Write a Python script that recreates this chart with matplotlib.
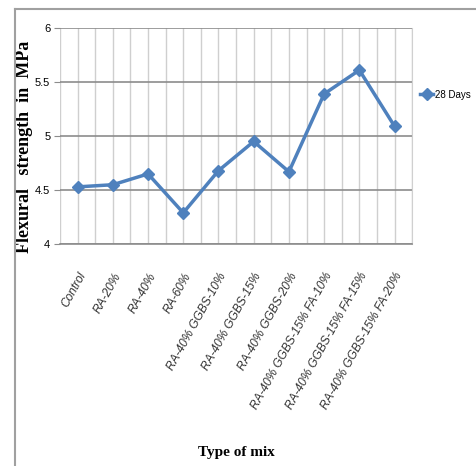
import matplotlib
matplotlib.use("Agg")
import matplotlib.pyplot as plt
from matplotlib.lines import Line2D
from matplotlib.ticker import MultipleLocator

mixes = ['Control', 'RA-20%', 'RA-40%', 'RA-60%', 'RA-40% GGBS-10%',
         'RA-40% GGBS-15%', 'RA-40% GGBS-20%', 'RA-40% GGBS-15% FA-10%',
         'RA-40% GGBS-15% FA-15%', 'RA-40% GGBS-15% FA-20%']
strength_28 = [4.53, 4.55, 4.65, 4.29, 4.68, 4.95, 4.67, 5.39, 5.61, 5.09]

sans = ['Liberation Sans', 'DejaVu Sans']
blue = '#4F81BD'

fig = plt.figure(figsize=(4.76, 4.66), dpi=100)
ax = fig.add_axes([0.126, 0.476, 0.740, 0.464])

x = list(range(len(mixes)))
ax.plot(x, strength_28, color=blue, lw=2.5, marker='D', markersize=6,
        label='28 Days', zorder=3)

ax.set_xlim(-0.5, len(mixes) - 0.5)
ax.set_ylim(4, 6)
ax.yaxis.set_major_locator(MultipleLocator(0.5))
ax.set_xticks(x)
ax.set_xticks([i - 0.5 for i in range(len(mixes) + 1)], minor=True)

ax.grid(axis='y', which='major', color='#8c8c8c', lw=1.2)
ax.grid(axis='x', which='both', color='#cfcfcf', lw=1.0)
ax.set_axisbelow(True)

for side in ['top', 'left']:
    ax.spines[side].set_visible(False)
ax.spines['right'].set_color('#d0d0d0')
ax.spines['bottom'].set_color('#8c8c8c')
ax.spines['bottom'].set_linewidth(1.2)

ax.tick_params(axis='y', length=4, color='#8c8c8c', pad=3)
ax.tick_params(axis='x', which='both', length=0, pad=19)
ax.set_yticks([4, 4.5, 5, 5.5, 6])
ax.set_yticklabels(['4', '4.5', '5', '5.5', '6'], family=sans, fontsize=8)
ax.set_xticklabels(mixes, rotation=61, ha='right', va='top',
                   rotation_mode='anchor', fontsize=8.6, style='italic',
                   family=sans, color='#333333')

ax.set_ylabel('Flexural   strength  in  MPa', family='Liberation Serif',
              fontweight='bold', fontsize=13)
ax.yaxis.set_label_coords(-0.076, 0.45)
fig.text(0.497, 0.03, 'Type of mix', family='Liberation Serif',
         fontweight='bold', fontsize=11, ha='center', va='center')

ax.legend(loc='center left', bbox_to_anchor=(0.882, 0.797),
          bbox_transform=fig.transFigure, frameon=False, borderpad=0,
          borderaxespad=0, handlelength=1.4, handletextpad=0.15,
          prop={'family': sans, 'size': 7})

# frame around the chart area (left and top edges)
fig.add_artist(Line2D([15 / 476, 15 / 476], [0, 1 - 9 / 466], color='#a0a0a0',
                      lw=1.5, transform=fig.transFigure))
fig.add_artist(Line2D([15 / 476, 1], [1 - 9 / 466, 1 - 9 / 466], color='#a0a0a0',
                      lw=1.5, transform=fig.transFigure))

fig.savefig('out.png', dpi=100)
